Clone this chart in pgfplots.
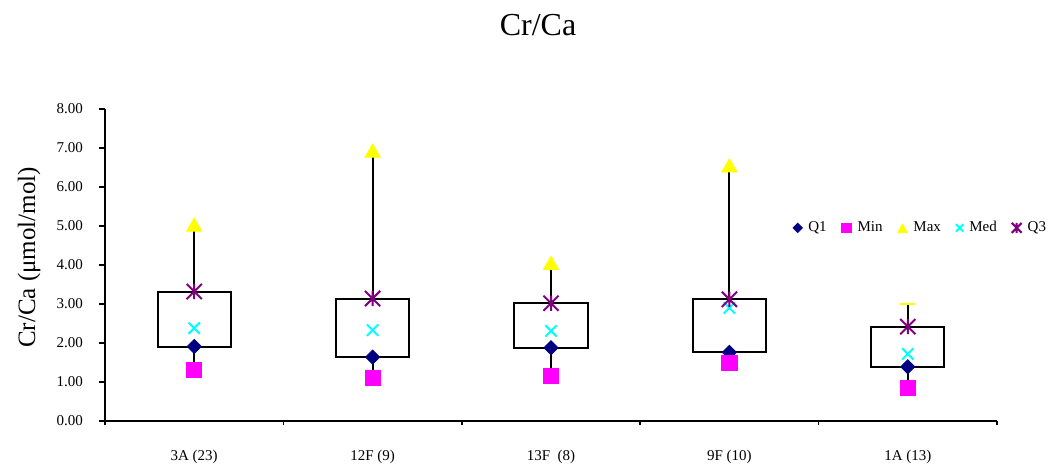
\documentclass[border=0pt]{standalone}
\usepackage{fontspec}
\setmainfont{Liberation Serif}
\usepackage{pgfplots}
\pgfplotsset{compat=1.18}
\usepgfplotslibrary{statistics}
\usepackage{pgfplotstable}
\definecolor{cQone}{HTML}{000080}
\definecolor{cMin}{HTML}{FF00FF}
\definecolor{cMax}{HTML}{FFFF00}
\definecolor{cMed}{HTML}{00FFFF}
\definecolor{cQthree}{HTML}{800080}
\pgfdeclareplotmark{xstar}{%
  \pgfpathmoveto{\pgfqpoint{-\pgfplotmarksize}{-\pgfplotmarksize}}%
  \pgfpathlineto{\pgfqpoint{\pgfplotmarksize}{\pgfplotmarksize}}%
  \pgfpathmoveto{\pgfqpoint{-\pgfplotmarksize}{\pgfplotmarksize}}%
  \pgfpathlineto{\pgfqpoint{\pgfplotmarksize}{-\pgfplotmarksize}}%
  \pgfpathmoveto{\pgfqpoint{0pt}{-\pgfplotmarksize}}%
  \pgfpathlineto{\pgfqpoint{0pt}{\pgfplotmarksize}}%
  \pgfusepathqstroke}
% x  Q1  Min  Max  Med  Q3
\pgfplotstableread{
x Qone Min Max Med Qthree
0 1.91 1.31 5.03 2.38 3.32
1 1.64 1.11 6.93 2.33 3.14
2 1.88 1.15 4.05 2.31 3.02
3 1.76 1.48 6.55 2.90 3.12
4 1.39 0.85 2.99 1.72 2.42
}\data
\pgfplotstableread{
x Max
0 5.03
1 6.93
2 4.05
3 6.55
}\maxtri
\pgfplotstableread{
x Max
4 2.99
}\maxdash
\begin{document}
\begin{tikzpicture}
\path[use as bounding box] (0,0) rectangle (524pt,233pt);
\node[font=\fontsize{16}{19}\selectfont] at (269pt,220.5pt) {Cr/Ca};
\begin{axis}[
  at={(52.5pt,22.5pt)}, anchor=south west,
  scale only axis, width=446pt, height=156pt,
  xmin=-0.5, xmax=4.5, ymin=0, ymax=8,
  axis x line=bottom, axis y line=left,
  axis line style={-, line width=1pt},
  xtick={0,1,2,3,4},
  xticklabels={3A (23),12F (9),13F\ \ (8),9F (10),1A (13)},
  major x tick style={draw=none},
  minor xtick={-0.5,0.5,1.5,2.5,3.5,4.5},
  minor x tick style={line width=0.8pt, black},
  minor tick length=2pt,
  x tick label style={font=\fontsize{7.5}{9}\selectfont, yshift=-8pt},
  ytick={0,1,...,8},
  tick align=outside,
  major tick length=3pt,
  y tick style={line width=0.8pt, black},
  y tick label style={font=\fontsize{7.5}{9}\selectfont, xshift=-4.5pt},
  yticklabel style={/pgf/number format/.cd, fixed, fixed zerofill, precision=2, assume math mode=true},
  ylabel={Cr/Ca (μmol/mol)},
  every axis y label/.style={at={(axis description cs:-0.085,0.524)}, rotate=90, anchor=center, font=\fontsize{12.5}{15}\selectfont},
  boxplot/draw direction=y,
  legend columns=5,
  legend style={draw=none, fill=none, at={(0.771,0.619)}, anchor=west,
    font=\fontsize{7.5}{9}\selectfont, inner sep=0pt,
    /tikz/every odd column/.append style={column sep=1pt},
    /tikz/every even column/.append style={column sep=5.5pt}},
  legend image code/.code={\draw[#1, every mark/.append style={scale=0.65}] plot coordinates {(0pt,0pt)};},
  clip=false,
]
\addplot[black, line width=1pt, fill=none, forget plot, boxplot prepared={draw position=0, lower whisker=1.31, lower quartile=1.91, median=1.91, upper quartile=3.32, upper whisker=5.03, box extend=0.41, whisker extend=0}] coordinates {};
\addplot[black, line width=1pt, fill=none, forget plot, boxplot prepared={draw position=1, lower whisker=1.11, lower quartile=1.64, median=1.64, upper quartile=3.14, upper whisker=6.93, box extend=0.41, whisker extend=0}] coordinates {};
\addplot[black, line width=1pt, fill=none, forget plot, boxplot prepared={draw position=2, lower whisker=1.15, lower quartile=1.88, median=1.88, upper quartile=3.02, upper whisker=4.05, box extend=0.41, whisker extend=0}] coordinates {};
\addplot[black, line width=1pt, fill=none, forget plot, boxplot prepared={draw position=3, lower whisker=1.48, lower quartile=1.76, median=1.76, upper quartile=3.12, upper whisker=6.55, box extend=0.41, whisker extend=0}] coordinates {};
\addplot[black, line width=1pt, fill=none, forget plot, boxplot prepared={draw position=4, lower whisker=0.85, lower quartile=1.39, median=1.39, upper quartile=2.42, upper whisker=2.99, box extend=0.41, whisker extend=0}] coordinates {};
\addplot[only marks, mark=square*, mark size=2.5pt, mark options={rotate=45, fill=cQone, draw=cQone}] table[x=x, y=Qone] {\data};
\addlegendentry{Q1}
\addplot[only marks, mark=square*, mark size=3.8pt, mark options={fill=cMin, draw=cMin}] table[x=x, y=Min] {\data};
\addlegendentry{Min}
\addplot[only marks, mark=triangle*, mark size=4.4pt, mark options={fill=cMax, draw=cMax, yshift=-1pt}] table[x=x, y=Max] {\maxtri};
\addlegendentry{Max}
\addplot[only marks, mark=-, mark size=3.75pt, forget plot, mark options={draw=cMax, line width=0.9pt}] table[x=x, y=Max] {\maxdash};
\addplot[only marks, mark=x, mark size=4pt, mark options={draw=cMed, line width=1pt}] table[x=x, y=Med] {\data};
\addlegendentry{Med}
\addplot[only marks, mark=xstar, mark size=3.8pt, mark options={draw=cQthree, line width=1pt}] table[x=x, y=Qthree] {\data};
\addlegendentry{Q3}
\end{axis}
\end{tikzpicture}
\end{document}
